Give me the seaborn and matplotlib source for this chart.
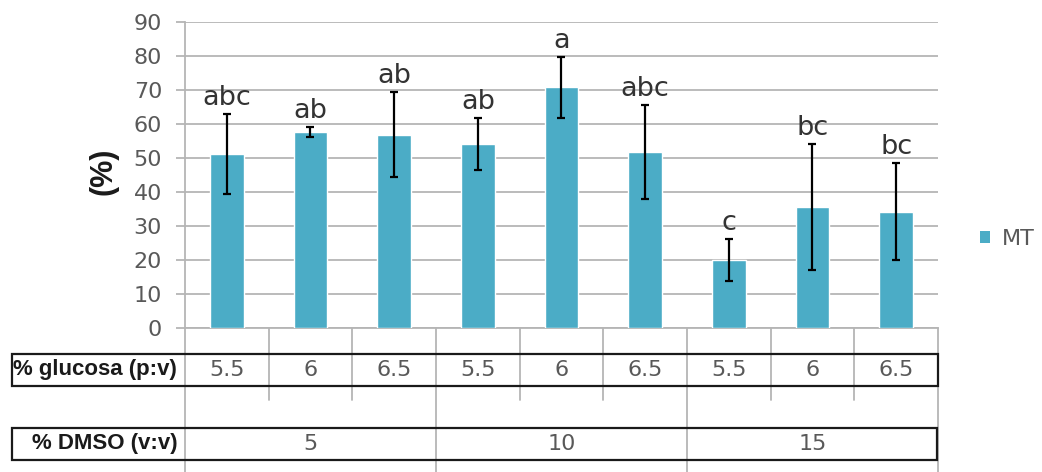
import matplotlib
matplotlib.use("Agg")
import matplotlib.pyplot as plt
import matplotlib.transforms as mtransforms
from matplotlib.patches import Rectangle, Patch
import numpy as np
import pandas as pd
import seaborn as sns

# --- data -------------------------------------------------------------
glucosa = ["5.5", "6", "6.5", "5.5", "6", "6.5", "5.5", "6", "6.5"]
dmso_levels = ["5", "10", "15"]
mt_mean = [51.2, 57.6, 56.8, 54.1, 70.8, 51.8, 20.0, 35.5, 34.2]
mt_err = [11.7, 1.5, 12.5, 7.6, 9.0, 13.8, 6.2, 18.5, 14.2]
letters = ["abc", "ab", "ab", "ab", "a", "abc", "c", "bc", "bc"]
yticks = [0, 10, 20, 30, 40, 50, 60, 70, 80, 90]

dmso_per_bar = [d for d in dmso_levels for _ in range(3)]
conditions = [f"{d}|{g}" for d, g in zip(dmso_per_bar, glucosa)]
df = pd.DataFrame({"cond": conditions, "MT": mt_mean})

# --- style ------------------------------------------------------------
sns.set_style("white")
plt.rcParams["font.family"] = ["DejaVu Sans"]

BAR = "#4BACC6"
GRID = "#b5b5b5"
TXT = "#595959"

W, H = 1042, 472
fig = plt.figure(figsize=(W / 100, H / 100), dpi=100)
# plot area in pixels: x 185..938, y 22..328 (top-down)
ax = fig.add_axes([185 / W, 1 - 328 / H, (938 - 185) / W, (328 - 22) / H])

sns.barplot(data=df, x="cond", y="MT", order=conditions, color=BAR,
            saturation=1, width=0.4, errorbar=None, ax=ax, zorder=3)

xpos = np.arange(len(conditions))
ax.errorbar(xpos, mt_mean, yerr=mt_err, fmt="none", ecolor="black",
            elinewidth=1.6, capsize=3, capthick=1.6, zorder=4)

for x, m, e, lab in zip(xpos, mt_mean, mt_err, letters):
    ax.annotate(lab, (x, m + e), xytext=(0, 6.5), textcoords="offset points",
                ha="center", va="baseline", fontsize=19.5, color="#333333",
                zorder=5)

ax.set_xlim(-0.5, len(conditions) - 0.5)
ax.set_ylim(0, 90)
ax.set_yticks(yticks)
ax.set_xticks([])
ax.set_xlabel("")
ax.set_ylabel("")
ax.yaxis.grid(True, color=GRID, lw=1.3, zorder=0)
ax.set_axisbelow(True)
ax.tick_params(axis="y", length=6.5, width=1.3, color=GRID, pad=10,
               labelsize=16, labelcolor=TXT, left=True, direction="out")
for s in ["top", "right"]:
    ax.spines[s].set_visible(False)
ax.spines["left"].set_color(GRID)
ax.spines["left"].set_linewidth(1.3)
ax.spines["bottom"].set_color(GRID)
ax.spines["bottom"].set_linewidth(1.3)

fig.text(104 / W, 1 - 171 / H, "(%)", rotation=90, ha="center", va="center",
         fontsize=22, fontweight="bold", family="Liberation Sans",
         color="#1b1b1b")

# --- category table under the axis ------------------------------------
blend = mtransforms.blended_transform_factory(ax.transData, ax.transAxes)

def ay(py):
    """axes-fraction y for a pixel row (measured from the top)."""
    return (328 - py) / 306

def ax_x(px):
    return (px - 185) / (938 - 185)

# short dividers between glucose levels, long ones between DMSO groups
for b in [0.5, 1.5, 3.5, 4.5, 6.5, 7.5]:
    ax.plot([b, b], [0, ay(400)], transform=blend, color=GRID, lw=1.3,
            clip_on=False, zorder=1)
for b in [-0.5, 2.5, 5.5, 8.5]:
    ax.plot([b, b], [0, ay(472)], transform=blend, color=GRID, lw=1.3,
            clip_on=False, zorder=1)

for top, bot, right in [(353.5, 385.5, 938.5), (427.5, 459.5, 937)]:
    ax.add_patch(Rectangle((ax_x(12), ay(bot)), ax_x(right) - ax_x(12),
                           ay(top) - ay(bot), transform=ax.transAxes,
                           fill=False, edgecolor="#1a1a1a", lw=1.6,
                           clip_on=False, zorder=2))

for x, g in zip(xpos, glucosa):
    ax.text(x, ay(369.5), g, transform=blend, ha="center", va="center",
            fontsize=16, color=TXT)
for i, d in enumerate(dmso_levels):
    ax.text(3 * i + 1, ay(443.5), d, transform=blend, ha="center",
            va="center", fontsize=16, color=TXT)

ax.text(ax_x(13), ay(369.5), "% glucosa (p:v)", transform=ax.transAxes,
        ha="left", va="center", fontsize=16, fontweight="bold",
        family="Liberation Sans", color="#1a1a1a")
ax.text(ax_x(178), ay(443.5), "% DMSO (v:v)", transform=ax.transAxes,
        ha="right", va="center", fontsize=16, fontweight="bold",
        family="Liberation Sans", color="#1a1a1a")

# --- legend -----------------------------------------------------------
ax.legend(handles=[Patch(facecolor=BAR, edgecolor="none")], labels=["MT"],
          loc="center left", bbox_to_anchor=(980 / W, 1 - 239 / H),
          bbox_transform=fig.transFigure, frameon=False, fontsize=16,
          labelcolor=TXT, handlelength=0.45, handleheight=0.45,
          handletextpad=0.55, borderpad=0, borderaxespad=0)

fig.savefig("out.png", dpi=100)
